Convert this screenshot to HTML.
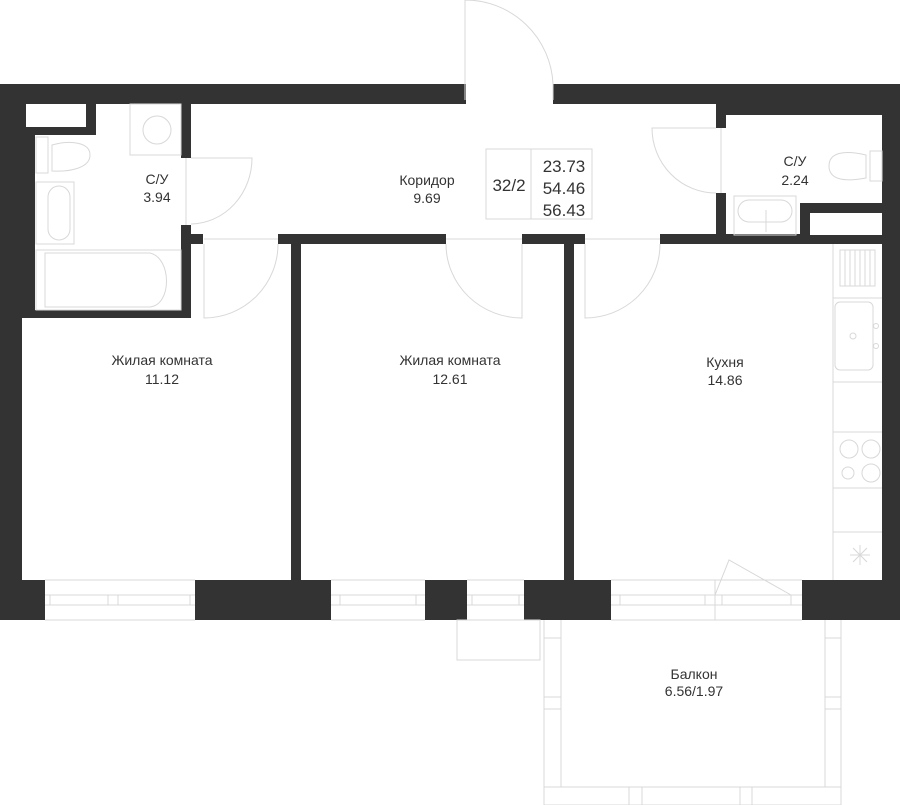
<!DOCTYPE html>
<html><head><meta charset="utf-8"><style>
html,body{margin:0;padding:0;background:#fff;}
svg{display:block;}
text{font-family:"Liberation Sans",sans-serif;fill:#333;font-size:14px;text-anchor:middle;}
</style></head><body>
<svg width="900" height="805" viewBox="0 0 900 805" xmlns="http://www.w3.org/2000/svg">
<g fill="#333">
<rect x="0" y="84" width="466" height="20"/>
<rect x="553" y="84" width="347" height="20"/>
<rect x="716" y="84" width="184" height="31"/>
<rect x="0" y="84" width="22" height="536"/>
<rect x="0" y="104" width="35" height="214"/>
<rect x="22" y="104" width="74" height="31"/>
<rect x="882" y="84" width="18" height="536"/>
<rect x="181" y="104" width="10" height="54"/>
<rect x="181" y="225" width="10" height="93"/>
<rect x="22" y="310" width="169" height="8"/>
<rect x="181" y="234" width="22" height="10"/>
<rect x="278" y="234" width="168" height="10"/>
<rect x="522" y="234" width="63" height="10"/>
<rect x="660" y="234" width="222" height="10"/>
<rect x="291" y="244" width="10" height="336"/>
<rect x="564" y="244" width="10" height="336"/>
<rect x="716" y="104" width="10" height="24"/>
<rect x="716" y="193" width="10" height="42"/>
<rect x="800" y="203" width="82" height="10"/>
<rect x="800" y="203" width="10" height="32"/>
<rect x="0" y="580" width="45" height="40"/>
<rect x="195" y="580" width="136" height="40"/>
<rect x="425" y="580" width="42" height="40"/>
<rect x="524" y="580" width="87" height="40"/>
<rect x="802" y="580" width="98" height="40"/>
</g>
<g fill="#fff">
<rect x="26" y="104" width="60" height="23"/>
<rect x="810" y="213" width="72" height="22"/>
</g>
<g fill="none" stroke="#d8d8d8" stroke-width="1">
<path d="M45 580H195M45 595H195M45 605H195M45 620H195M50 595V605M190 595V605M108 595V605M118 595V605"/>
<path d="M331 580H425M331 595H425M331 605H425M331 620H425M340 595V605M416 595V605"/>
<path d="M467 580H524M467 595H524M467 605H524M467 620H524M472 595V605M519 595V605"/>
<path d="M611 580H802M611 595H802M611 605H802M611 620H802M620 595V605M791 595V605M705 595V605M722 595V605M715 580V620"/>
<path d="M715 595L729 560L791 595"/>
<path d="M544 620V805M561 620V787M825 620V787M841 620V805M544 787H841M544 805H841M544 638H561M825 638H841M544 697H561M825 697H841M544 709H561M825 709H841M629 787V805M642 787V805M740 787V805M752 787V805"/>
<rect x="457" y="620" width="83" height="40"/>
<path d="M465 84V0A88 88 0 0 1 553 84M553 84V100M465 84V100"/>
<path d="M191 158H252A62 66 0 0 1 191 224M186 158V225"/>
<path d="M204 244V318A74 74 0 0 0 278 244M204 239H278"/>
<path d="M522 244V318A76 74 0 0 1 446 244M446 239H522"/>
<path d="M585 244V318A75 74 0 0 0 660 244M585 239H660"/>
<path d="M716 128H652A64 65 0 0 0 716 193M721 128V193"/>
<rect x="486" y="149" width="106" height="70"/>
<path d="M531 149V219"/>
<rect x="130" y="104" width="51" height="51"/>
<circle cx="157" cy="130" r="14"/>
<rect x="36" y="137" width="12" height="36"/>
<path d="M52 145C70 140 90 142 90 155C90 168 70 172 52 171Z"/>
<rect x="36" y="182" width="38" height="62"/>
<rect x="48" y="186" width="22" height="54" rx="11"/>
<rect x="36" y="250" width="145" height="60"/>
<path d="M45 253H150C172 258 172 305 150 307H45Z"/>
<rect x="870" y="151" width="12" height="30"/>
<path d="M866 155C845 150 829 152 829 166C829 180 845 182 866 178Z"/>
<rect x="734" y="196" width="62" height="39"/>
<rect x="738" y="200" width="54" height="22" rx="11"/>
<path d="M766 210V232"/>
<path d="M833 244V580M833 298H882M833 382H882M833 432H882M833 488H882M833 532H882"/>
<rect x="840" y="250" width="35" height="36"/>
<path d="M845 250V286M850 250V286M855 250V286M860 250V286M865 250V286M870 250V286"/>
<rect x="835" y="302" width="38" height="68" rx="5"/>
<circle cx="853" cy="336" r="3"/><circle cx="876" cy="326" r="2.5"/><circle cx="876" cy="346" r="2.5"/>
<circle cx="849" cy="449" r="9"/><circle cx="871" cy="449" r="9"/><circle cx="848" cy="473" r="6"/><circle cx="871" cy="473" r="9"/>
<path d="M850 555H870M860 545V565M853 548L867 562M867 548L853 562"/>
</g>
<text x="157" y="184">С/У</text><text x="157" y="202">3.94</text>
<text x="427" y="185">Коридор</text><text x="427" y="203">9.69</text>
<text x="795" y="166">С/У</text><text x="795" y="185">2.24</text>
<text x="162" y="365">Жилая комната</text><text x="162" y="384">11.12</text>
<text x="450" y="365">Жилая комната</text><text x="450" y="384">12.61</text>
<text x="725" y="367">Кухня</text><text x="725" y="385">14.86</text>
<text x="694" y="679">Балкон</text><text x="694" y="696">6.56/1.97</text>
<text x="509" y="191" style="font-size:17px">32/2</text>
<text x="564" y="172" style="font-size:17px">23.73</text>
<text x="564" y="194" style="font-size:17px">54.46</text>
<text x="564" y="216" style="font-size:17px">56.43</text>
</svg>
</body></html>
